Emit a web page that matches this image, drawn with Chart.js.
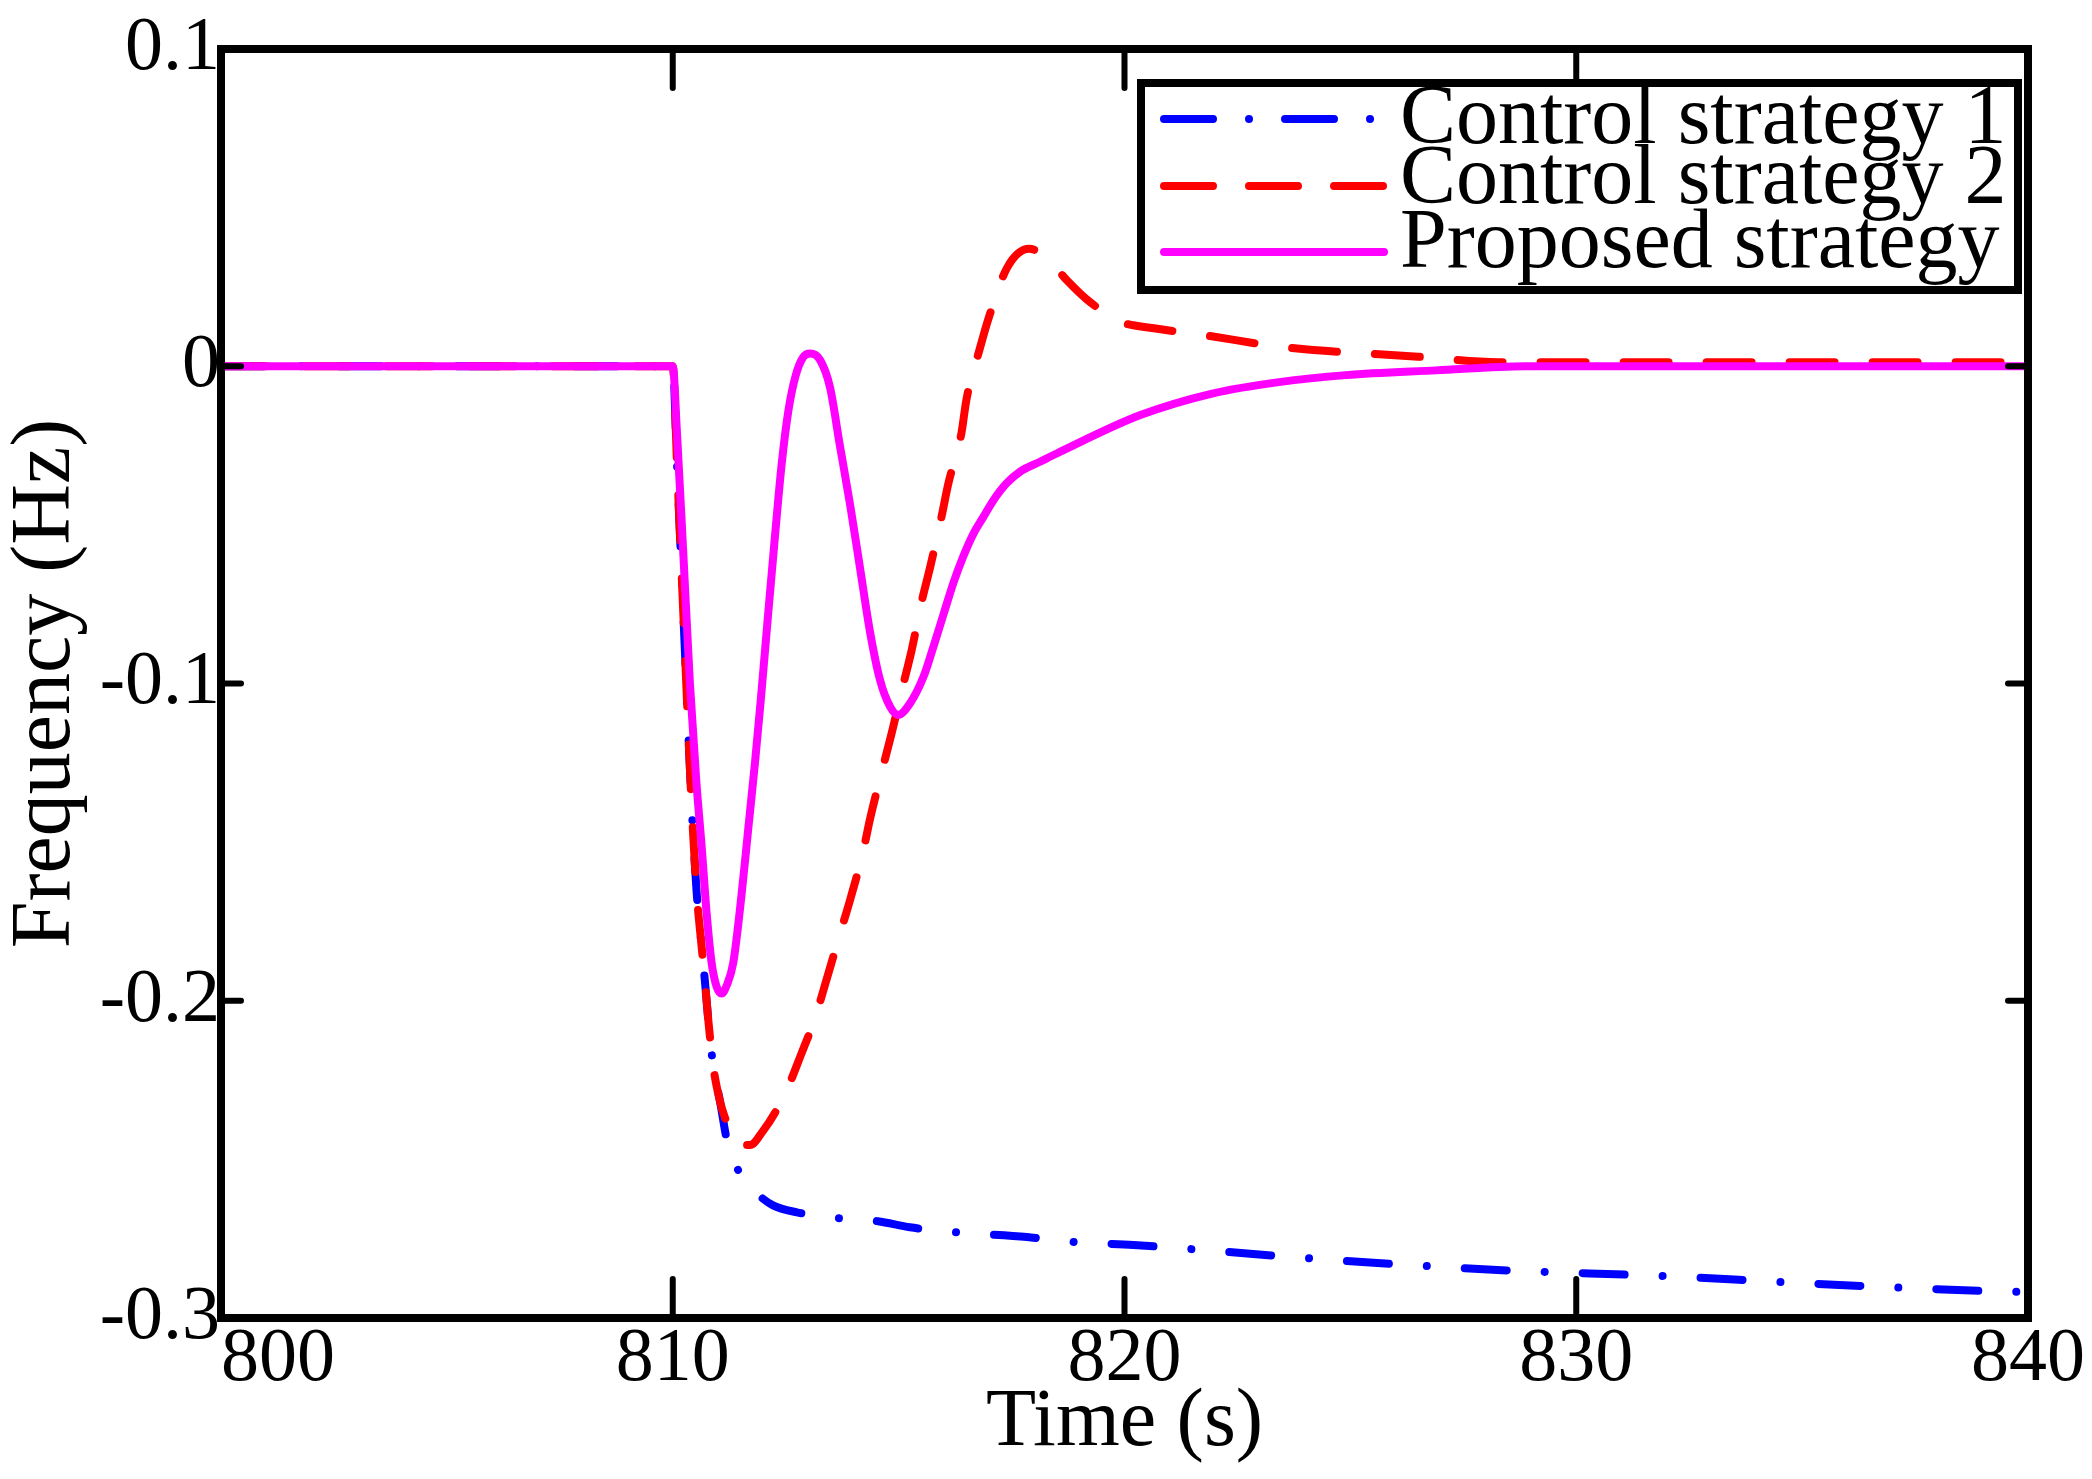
<!DOCTYPE html>
<html>
<head>
<meta charset="utf-8">
<script src="https://cdn.jsdelivr.net/npm/chart.js@4.4.1/dist/chart.umd.min.js"></script>
<style>
  html, body { margin: 0; padding: 0; background: #fff; }
  canvas { display: block; }
</style>
</head>
<body>
<canvas id="c" width="2092" height="1479"></canvas>
<script>
// ---------- data ----------
const xTicks = [800, 810, 820, 830, 840];
const xTickLabels = ['800', '810', '820', '830', '840'];
const yTicks = [-0.3, -0.2, -0.1, 0, 0.1];
const yTickLabels = ['-0.3', '-0.2', '-0.1', '0', '0.1'];

const seriesNames = ['Control strategy 1', 'Control strategy 2', 'Proposed strategy'];

// Control strategy 1 (blue, dash-dot)
const timeS1 = [800, 810, 810.1, 810.24, 810.42, 810.53, 810.64, 810.71, 810.78, 810.89, 811.05, 811.2,
  811.49, 811.86, 812.22, 812.75, 813.7, 814.54, 815.25, 816.29, 817.84, 818.86, 820.2,
  824.6, 828.47, 832.0, 834.96, 839.1, 840];
const freqS1 = [0, 0, -0.033, -0.08, -0.139, -0.166, -0.183, -0.1935, -0.205, -0.22, -0.232, -0.244,
  -0.2545, -0.2607, -0.2645, -0.2667, -0.2686, -0.2695, -0.2714, -0.273, -0.2745, -0.276, -0.277,
  -0.2817, -0.285, -0.2868, -0.289, -0.2915, -0.2918];

// Control strategy 2 (red, dashed)
const timeS2 = [800, 810, 810.1, 810.24, 810.42, 810.53, 810.64, 810.71, 810.78, 810.89, 811.05, 811.16,
  811.3, 811.49, 811.71, 812.0, 812.26, 812.6, 812.82, 813.16, 813.37, 813.7, 813.93, 814.21,
  814.37, 814.66, 814.84, 815.1, 815.29, 815.51, 815.7, 815.95, 816.1, 816.39, 816.5, 816.8,
  817.0, 817.4, 817.89, 818.29, 818.73, 819.17, 819.92, 820.65, 821.76, 823.53, 826.5, 828.27, 840];
const freqS2 = [0, 0, -0.033, -0.08, -0.139, -0.166, -0.183, -0.1935, -0.205, -0.22, -0.232, -0.237,
  -0.242, -0.2455, -0.2455, -0.241, -0.2354, -0.2256, -0.2177, -0.205, -0.195, -0.179, -0.168, -0.1532,
  -0.1425, -0.126, -0.116, -0.1005, -0.0894, -0.0742, -0.0632, -0.0474, -0.037, -0.0211, -0.0106, 0.0057,
  0.0155, 0.031, 0.037, 0.034, 0.027, 0.021, 0.014, 0.012, 0.0098, 0.006, 0.003, 0.0013, 0.0013];

// Proposed strategy (magenta, solid)
const timeP = [800, 810, 810.09, 810.23, 810.38, 810.52, 810.64, 810.75, 810.86, 810.97, 811.08,
  811.2, 811.34, 811.52, 811.67, 811.82, 811.95, 812.1, 812.26, 812.41, 812.56, 812.72, 812.89, 813.04,
  813.26, 813.48, 813.7, 813.93, 814.15, 814.37, 814.59, 814.81, 814.99, 815.25, 815.55, 815.77,
  816.0, 816.21, 816.43, 816.66, 816.88, 817.1, 817.39, 817.69, 818.13, 818.5, 820.35, 821.94,
  823.42, 824.9, 826.9, 828.87, 840];
const freqP = [0, 0, -0.02, -0.058, -0.1, -0.1305, -0.1514, -0.1724, -0.188, -0.1955, -0.1977,
  -0.195, -0.188, -0.167, -0.146, -0.125, -0.105, -0.08, -0.054, -0.031, -0.014, -0.003, 0.0029, 0.004,
  0.002, -0.0066, -0.025, -0.044, -0.064, -0.084, -0.099, -0.1073, -0.1099, -0.1063, -0.0979, -0.0884,
  -0.0779, -0.0684, -0.060, -0.0527, -0.0474, -0.0422, -0.0369, -0.0332, -0.0301, -0.0275, -0.0154, -0.0086,
  -0.005, -0.0028, -0.0013, 0, 0];

const colors = ['#0000ff', '#ff0000', '#ff00ff'];

function pts(t, v) { return t.map((tt, i) => ({ x: tt, y: v[i] })); }

// ---------- chart ----------
const FONT = '"Liberation Serif", "DejaVu Serif", serif';
Chart.defaults.font.family = FONT;
Chart.defaults.color = '#000';

const frameLegendPlugin = {
  id: 'frameLegend',
  afterDraw(chart) {
    const { ctx, chartArea: a, scales: { x, y } } = chart;
    ctx.save();
    const seg = (x1, y1, x2, y2) => { ctx.beginPath(); ctx.moveTo(x1, y1); ctx.lineTo(x2, y2); ctx.stroke(); };
    // inward ticks on all four sides
    ctx.strokeStyle = '#000';
    ctx.lineWidth = 6;
    ctx.lineCap = 'round';
    xTicks.forEach((v, i) => {
      if (i === 0 || i === xTicks.length - 1) return;
      const px = x.getPixelForValue(v);
      seg(px, a.bottom, px, a.bottom - 39);
      seg(px, a.top, px, a.top + 39);
    });
    yTicks.forEach((v, i) => {
      if (i === 0 || i === yTicks.length - 1) return;
      const py = y.getPixelForValue(v);
      seg(a.left, py, a.left + 20, py);
      seg(a.right, py, a.right - 20, py);
    });
    // frame
    ctx.lineCap = 'butt';
    ctx.lineWidth = 8;
    ctx.strokeRect(a.left, a.top, a.right - a.left, a.bottom - a.top);
    // x tick labels
    ctx.font = '76px ' + FONT;
    ctx.fillStyle = '#000';
    ctx.textBaseline = 'alphabetic';
    xTicks.forEach((v, i) => {
      const px = x.getPixelForValue(v);
      ctx.textAlign = i === 0 ? 'left' : 'center';
      ctx.fillText(xTickLabels[i], px, a.bottom + 62);
    });
    // legend
    const L = 1141, T = 83, R = 2018, B = 290;
    ctx.fillStyle = '#fff';
    ctx.fillRect(L, T, R - L, B - T);
    ctx.strokeStyle = '#000';
    ctx.lineWidth = 8;
    ctx.strokeRect(L, T, R - L, B - T);
    const rowsY = [119, 186, 252];
    const baseY = [143, 203, 267];
    const dashes = [[49, 36, 0.01, 36], [49, 36], []];
    ctx.lineCap = 'round';
    ctx.lineWidth = 8;
    for (let i = 0; i < 3; i++) {
      ctx.strokeStyle = colors[i];
      ctx.setLineDash(dashes[i]);
      seg(1164, rowsY[i], 1384, rowsY[i]);
    }
    ctx.setLineDash([]);
    ctx.fillStyle = '#000';
    ctx.font = '84px ' + FONT;
    ctx.textAlign = 'left';
    for (let i = 0; i < 3; i++) ctx.fillText(seriesNames[i], 1400, baseY[i]);
    ctx.restore();
  }
};

new Chart(document.getElementById('c'), {
  type: 'line',
  data: {
    datasets: [
      { label: seriesNames[2], data: pts(timeP, freqP), borderColor: colors[2], borderWidth: 8,
        borderDash: [], order: 0 },
      { label: seriesNames[1], data: pts(timeS2, freqS2), borderColor: colors[1], borderWidth: 8,
        borderDash: [45, 38], order: 1 },
      { label: seriesNames[0], data: pts(timeS1, freqS1), borderColor: colors[0], borderWidth: 8,
        borderDash: [42, 38, 0.01, 38], order: 2 }
    ].map(d => Object.assign(d, {
      pointRadius: 0, fill: false, cubicInterpolationMode: 'monotone',
      borderCapStyle: 'round', borderJoinStyle: 'round'
    }))
  },
  options: {
    responsive: false,
    animation: false,
    devicePixelRatio: 1,
    layout: { padding: { left: 0, right: 64, top: 49, bottom: 0 } },
    plugins: { legend: { display: false }, tooltip: { enabled: false } },
    scales: {
      x: {
        type: 'linear', min: 800, max: 840,
        afterBuildTicks: s => { s.ticks = xTicks.map(v => ({ value: v })); },
        afterFit: s => { s.height = 161; },
        ticks: { display: false },
        grid: { display: false, drawTicks: false, tickLength: 0 },
        border: { display: false },
        title: { display: true, text: 'Time (s)', font: { size: 82, lineHeight: 1.125 },
                 padding: { top: 0, bottom: 9 } }
      },
      y: {
        type: 'linear', min: -0.3, max: 0.1,
        afterBuildTicks: s => { s.ticks = yTicks.map(v => ({ value: v })); },
        afterFit: s => { s.width = 221; },
        ticks: { padding: 1, font: { size: 76, lineHeight: 1.0 }, callback: (v, i) => yTickLabels[i] },
        grid: { display: false, drawTicks: false, tickLength: 0 },
        border: { display: false },
        title: { display: true, text: 'Frequency (Hz)', font: { size: 84, lineHeight: 1.125 },
                 padding: { top: 0, bottom: 0 } }
      }
    }
  },
  plugins: [frameLegendPlugin]
});
</script>
</body>
</html>
